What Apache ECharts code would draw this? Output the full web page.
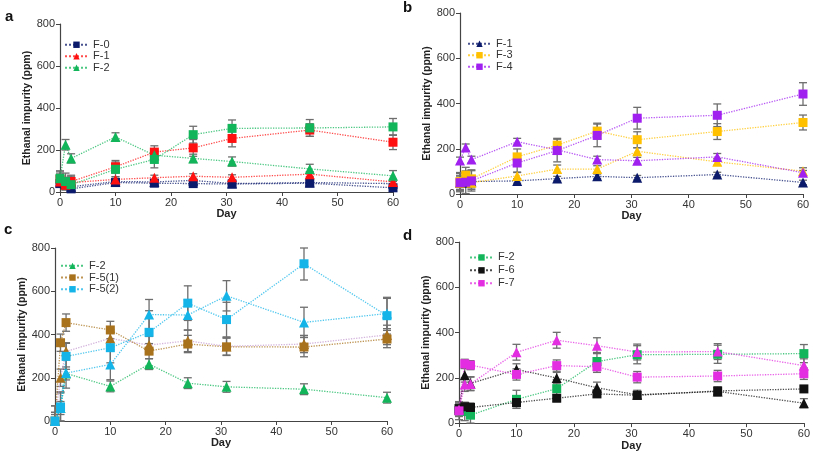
<!DOCTYPE html>
<html><head><meta charset="utf-8">
<script src="https://cdn.jsdelivr.net/npm/echarts@6/dist/echarts.min.js"></script>
<style>html,body{margin:0;padding:0;background:#fff}#c{width:813px;height:452px}</style>
</head><body><div id="c"></div>
<script>
// ---- data ----
const days = [0, 1, 2, 10, 17, 24, 31, 45, 60];
const xTicks = [0, 10, 20, 30, 40, 50, 60];
const yTicks = [0, 200, 400, 600, 800];

// panel a
const a_F0_sq  = [40, 35, 15, 45, 42, 40, 38, 42, 20];
const a_F0_sqE = [15, 20, 10, 10, 10, 10, 10, 10, 10];
const a_F0_tr  = [45, 40, 25, 50, 48, 55, 40, 45, 40];
const a_F0_trE = [15, 15, 10, 10, 10, 10, 10, 10, 10];
const a_F1_sq  = [60, 40, 50, 120, 190, 210, 255, 295, 237];
const a_F1_sqE = [30, 30, 30, 30, 30, 40, 40, 30, 35];
const a_F1_tr  = [50, 35, 45, 60, 68, 75, 70, 85, 48];
const a_F1_trE = [15, 15, 12, 12, 12, 12, 12, 12, 12];
const a_F2_tr  = [65, 225, 160, 262, 175, 160, 145, 110, 77];
const a_F2_trE = [35, 25, 22, 20, 25, 20, 22, 22, 25];
const a_F2_sq  = [65, 50, 35, 108, 155, 273, 303, 305, 310];
const a_F2_sqE = [35, 40, 40, 35, 40, 40, 40, 40, 40];

// panel b
const b_F1_tr  = [50, 50, 55, 58, 68, 78, 72, 86, 51];
const b_F1_trE = [30, 10, 10, 10, 10, 10, 10, 10, 10];
const b_F3_sq  = [55, 83, 67, 164, 216, 278, 240, 276, 316];
const b_F3_sqE = [40, 35, 40, 35, 30, 35, 35, 35, 33];
const b_F3_tr  = [50, 60, 50, 80, 110, 110, 189, 142, 101];
const b_F3_trE = [30, 30, 30, 15, 18, 15, 15, 15, 15];
const b_F4_sq  = [50, 52, 58, 137, 192, 259, 335, 348, 442];
const b_F4_sqE = [40, 50, 45, 40, 50, 50, 48, 50, 50];
const b_F4_tr  = [148, 206, 152, 231, 195, 152, 147, 164, 94];
const b_F4_trE = [15, 15, 15, 15, 15, 15, 15, 15, 10];

// panel c
const c_F2_tr   = [0, 60, 220, 160, 263, 175, 158, 147, 108];
const c_F2_trE  = [30, 30, 30, 25, 25, 25, 25, 25, 25];
const c_F51_sq  = [0, 362, 455, 421, 323, 356, 343, 342, 379];
const c_F51_sqE = [40, 40, 40, 40, 35, 40, 40, 45, 40];
const c_F51_tr  = [0, 200, 322, 382, 351, 371, 345, 356, 398];
const c_F51_trE = [40, 40, 40, 40, 40, 50, 40, 40, 45];
const c_F52_sq  = [0, 65, 299, 339, 410, 545, 469, 727, 487];
const c_F52_sqE = [70, 70, 60, 70, 100, 80, 80, 75, 85];
const c_F52_tr  = [0, 60, 222, 261, 492, 490, 579, 456, 497];
const c_F52_trE = [70, 70, 70, 70, 70, 70, 70, 70, 70];

// panel d
const d_F2_sq  = [55, 51, 35, 105, 152, 272, 302, 304, 307];
const d_F2_sqE = [40, 40, 40, 40, 40, 40, 40, 40, 40];
const d_F6_sq  = [64, 72, 69, 91, 110, 129, 123, 142, 151];
const d_F6_sqE = [20, 20, 20, 25, 15, 15, 15, 15, 12];
const d_F6_tr  = [60, 211, 175, 237, 199, 156, 125, 140, 88];
const d_F6_trE = [25, 30, 30, 25, 25, 25, 20, 20, 20];
const d_F7_sq  = [54, 262, 256, 215, 254, 249, 203, 208, 218];
const d_F7_sqE = [25, 20, 20, 25, 25, 25, 25, 25, 25];
const d_F7_tr  = [60, 170, 173, 313, 366, 342, 314, 316, 254];
const d_F7_trE = [30, 30, 30, 35, 35, 35, 35, 35, 30];

const panelLetters = ['a', 'b', 'c', 'd'];
const legendNames = [['F-0', 'F-1', 'F-2'], ['F-1 ', 'F-3', 'F-4'], ['F-2 ', 'F-5(1)', 'F-5(2)'], ['F-2  ', 'F-6', 'F-7']];

// ---- styles ----
const C = {navy:'#0b1a6b', red:'#ff1010', green:'#12b55a', yellow:'#ffc000', purple:'#a020f0',
  brown:'#a8711c', cyan:'#14b4e8', black:'#111111', magenta:'#e22ee0'};
const FONT = "'Liberation Sans', Arial, sans-serif";

const grids = [
  {left: 60, top: 24, width: 333, height: 168},
  {left: 460, top: 13, width: 343, height: 181},
  {left: 55, top: 248, width: 332, height: 173},
  {left: 459, top: 242, width: 347, height: 182}
];
const legendPos = [
  {left: 64, top: 39, lh: 11.5},
  {left: 467, top: 38, lh: 11.5},
  {left: 60, top: 260, lh: 11.7},
  {left: 469, top: 251, lh: 12.9}
];
const letterPos = [[5, 9], [403, 0], [4, 222], [403, 228]];

const defs = [
  [0, 'a-F0-tr', a_F0_tr, a_F0_trE, C.navy, 'triangle'],
  [0, 'F-0', a_F0_sq, a_F0_sqE, C.navy, 'rect'],
  [0, 'F-1', a_F1_tr, a_F1_trE, C.red, 'triangle'],
  [0, 'a-F1-sq', a_F1_sq, a_F1_sqE, C.red, 'rect'],
  [0, 'F-2', a_F2_tr, a_F2_trE, C.green, 'triangle'],
  [0, 'a-F2-sq', a_F2_sq, a_F2_sqE, C.green, 'rect'],

  [1, 'F-1 ', b_F1_tr, b_F1_trE, C.navy, 'triangle'],
  [1, 'b-F3-tr', b_F3_tr, b_F3_trE, C.yellow, 'triangle'],
  [1, 'F-3', b_F3_sq, b_F3_sqE, C.yellow, 'rect'],
  [1, 'b-F4-tr', b_F4_tr, b_F4_trE, C.purple, 'triangle'],
  [1, 'F-4', b_F4_sq, b_F4_sqE, C.purple, 'rect'],

  [2, 'F-2 ', c_F2_tr, c_F2_trE, C.green, 'triangle'],
  [2, 'c-F51-tr', c_F51_tr, c_F51_trE, C.brown, 'triangle', '#c49ad0'],
  [2, 'F-5(1)', c_F51_sq, c_F51_sqE, C.brown, 'rect'],
  [2, 'c-F52-tr', c_F52_tr, c_F52_trE, C.cyan, 'triangle'],
  [2, 'F-5(2)', c_F52_sq, c_F52_sqE, C.cyan, 'rect'],

  [3, 'F-2  ', d_F2_sq, d_F2_sqE, C.green, 'rect'],
  [3, 'd-F6-tr', d_F6_tr, d_F6_trE, C.black, 'triangle'],
  [3, 'F-6', d_F6_sq, d_F6_sqE, C.black, 'rect'],
  [3, 'd-F7-tr', d_F7_tr, d_F7_trE, C.magenta, 'triangle'],
  [3, 'F-7', d_F7_sq, d_F7_sqE, C.magenta, 'rect']
];

function errRender(params, api) {
  const x = api.value(0), lo = Math.max(0, api.value(1)), hi = Math.min(800, api.value(2));
  const p1 = api.coord([x, lo]), p2 = api.coord([x, hi]);
  const w = 4;
  const st = {stroke: '#6e6e6e', lineWidth: 1.3};
  return {type: 'group', children: [
    {type: 'line', shape: {x1: p1[0], y1: p1[1], x2: p2[0], y2: p2[1]}, style: st},
    {type: 'line', shape: {x1: p1[0] - w, y1: p1[1], x2: p1[0] + w, y2: p1[1]}, style: st},
    {type: 'line', shape: {x1: p2[0] - w, y1: p2[1], x2: p2[0] + w, y2: p2[1]}, style: st}
  ]};
}

const series = [];
defs.forEach(([g, name, vals, errs, color, symbol, lineColor]) => {
  series.push({
    type: 'custom', name: name + '-err', xAxisIndex: g, yAxisIndex: g, z: 2, silent: true,
    renderItem: errRender,
    data: days.map((d, i) => [d, vals[i] - errs[i], vals[i] + errs[i]])
  });
  series.push({
    type: 'line', name: name, xAxisIndex: g, yAxisIndex: g, z: 3,
    data: days.map((d, i) => [d, vals[i]]),
    symbol: symbol, symbolSize: symbol === 'triangle' ? 10 : 9, showAllSymbol: true,
    itemStyle: {color: color, opacity: 1},
    lineStyle: {type: 'dotted', width: 1.3, color: lineColor || color, opacity: 0.75}
  });
});

const axisLabel = {color: '#333', fontSize: 11, fontFamily: FONT, margin: 5};
const xAxis = grids.map((g, i) => ({
  type: 'value', gridIndex: i, min: 0, max: 60, interval: 10,
  name: 'Day', nameLocation: 'middle', nameGap: 11,
  nameTextStyle: {fontWeight: 'bold', fontSize: 11, fontFamily: FONT, color: '#222'},
  axisLine: {show: true, onZero: false, lineStyle: {color: '#444', width: 1.2}},
  axisTick: {show: true, length: 4, lineStyle: {color: '#444'}},
  splitLine: {show: false},
  axisLabel: axisLabel
}));
const yAxis = grids.map((g, i) => ({
  type: 'value', gridIndex: i, min: 0, max: 800, interval: 200,
  name: 'Ethanal impurity (ppm)', nameLocation: 'middle', nameGap: 26,
  nameTextStyle: {fontWeight: 'bold', fontSize: 10.5, fontFamily: FONT, color: '#222'},
  axisLine: {show: true, lineStyle: {color: '#444', width: 1.2}},
  axisTick: {show: true, length: 4, lineStyle: {color: '#444'}},
  splitLine: {show: false},
  axisLabel: axisLabel
}));

const legend = legendNames.map((names, i) => ({
  orient: 'vertical', left: legendPos[i].left, top: legendPos[i].top,
  data: names, itemWidth: 23, itemHeight: 8, itemGap: 0, padding: 0,
  textStyle: {fontSize: 11, fontFamily: FONT, color: '#333', lineHeight: legendPos[i].lh},
  selectedMode: false
}));

const graphic = panelLetters.map((t, i) => ({
  type: 'text', left: letterPos[i][0], top: letterPos[i][1],
  style: {text: t, font: 'bold 15px ' + FONT, fill: '#111'}
}));

const chart = echarts.init(document.getElementById('c'), null, {renderer: 'canvas'});
chart.setOption({
  animation: false,
  backgroundColor: '#fff',
  grid: grids.map(g => Object.assign({containLabel: false}, g)),
  xAxis, yAxis, legend, graphic, series
});
</script></body></html>
